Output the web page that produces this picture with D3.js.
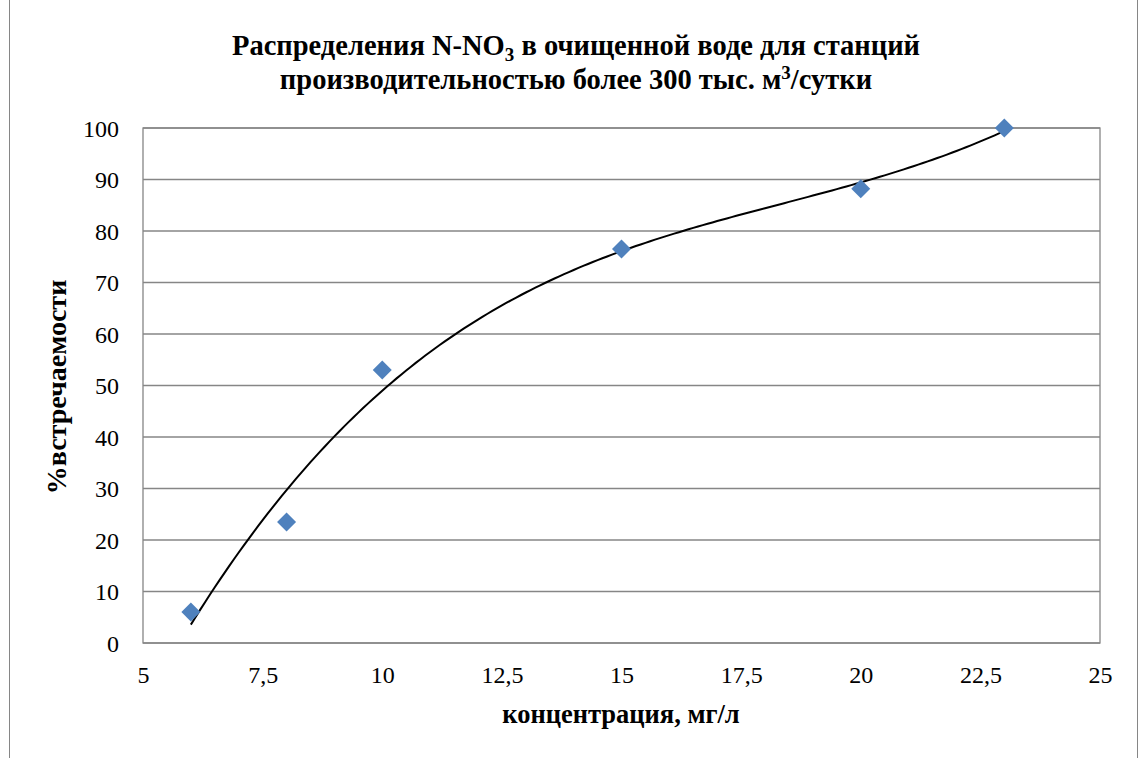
<!DOCTYPE html>
<html>
<head>
<meta charset="utf-8">
<script src="https://cdn.jsdelivr.net/npm/d3@7"></script>
<style>
  body { margin: 0; background: #fff; }
</style>
</head>
<body>
<div id="chart"></div>
<script>
const conc = [6, 8, 10, 15, 20, 23];
const freq = [6, 23.5, 53, 76.5, 88.2, 100];
const xTicks = [5, 7.5, 10, 12.5, 15, 17.5, 20, 22.5, 25];
const yTicks = [0, 10, 20, 30, 40, 50, 60, 70, 80, 90, 100];

const chartWidth = 1143;
const chartHeight = 758;
const plot = {left: 143, right: 1100, top: 128, bottom: 643};
const font = '"Liberation Serif", "Times New Roman", serif';

//Scales
const xScale = d3.scaleLinear()
  .domain([5, 25])
  .range([plot.left, plot.right]);

const yScale = d3.scaleLinear()
  .domain([0, 100])
  .range([plot.bottom, plot.top]);

const fmt = d => String(d).replace('.', ',');

//Cubic least-squares trendline, like the spreadsheet one
function polyFit(xs, ys, order) {
  const n = order + 1;
  const A = [];
  for (let i = 0; i < n; i++) {
    A.push([]);
    for (let j = 0; j < n; j++) A[i].push(d3.sum(xs, x => Math.pow(x, i + j)));
    A[i].push(d3.sum(xs, (x, k) => Math.pow(x, i) * ys[k]));
  }
  for (let i = 0; i < n; i++) {
    let p = i;
    for (let r = i + 1; r < n; r++) if (Math.abs(A[r][i]) > Math.abs(A[p][i])) p = r;
    [A[i], A[p]] = [A[p], A[i]];
    for (let r = 0; r < n; r++) {
      if (r === i) continue;
      const f = A[r][i] / A[i][i];
      for (let c = i; c <= n; c++) A[r][c] -= f * A[i][c];
    }
  }
  return A.map((row, i) => row[n] / row[i]);
}
const coef = polyFit(conc, freq, 3);
const trend = d3.range(conc[0], conc[conc.length - 1] + 0.001, 0.1)
  .map(x => [x, coef.reduce((s, c, i) => s + c * Math.pow(x, i), 0)]);

//Init chart
const chart = d3.select('#chart')
  .append('svg')
  .attr('width', chartWidth)
  .attr('height', chartHeight);

//Outer frame
chart.append('rect')
  .attr('x', 9.5).attr('y', -5)
  .attr('width', 1128).attr('height', 800)
  .attr('fill', 'none')
  .attr('stroke', '#868686')
  .attr('stroke-width', 1);

//Gridlines
chart.append('g')
  .selectAll('line')
  .data(yTicks)
  .enter()
  .append('line')
  .attr('x1', plot.left).attr('x2', plot.right)
  .attr('y1', d => yScale(d)).attr('y2', d => yScale(d))
  .attr('stroke', '#868686')
  .attr('stroke-width', 1.3);

//Plot border
chart.append('rect')
  .attr('x', plot.left).attr('y', plot.top)
  .attr('width', plot.right - plot.left)
  .attr('height', plot.bottom - plot.top)
  .attr('fill', 'none')
  .attr('stroke', '#868686')
  .attr('stroke-width', 1.3);

//Axes
const xAxis = d3.axisBottom(xScale).tickValues(xTicks).tickSize(0).tickFormat(fmt);
chart.append('g')
  .attr('class', 'x-axis')
  .attr('transform', `translate(0, ${plot.bottom})`)
  .call(xAxis)
  .call(g => g.select('.domain').remove())
  .selectAll('text')
  .attr('dy', 0)
  .attr('y', 40)
  .attr('fill', '#000')
  .style('font-family', font)
  .style('font-size', '24px');

const yAxis = d3.axisLeft(yScale).tickValues(yTicks).tickSize(0);
chart.append('g')
  .attr('class', 'y-axis')
  .attr('transform', `translate(${plot.left}, 0)`)
  .call(yAxis)
  .call(g => g.select('.domain').remove())
  .selectAll('text')
  .attr('x', -24)
  .attr('dy', '0.35em')
  .attr('fill', '#000')
  .style('font-family', font)
  .style('font-size', '24px');

//Trendline
chart.append('path')
  .datum(trend)
  .attr('d', d3.line().x(d => xScale(d[0])).y(d => yScale(d[1])))
  .attr('fill', 'none')
  .attr('stroke', '#000')
  .attr('stroke-width', 2);

//Points
chart.append('g')
  .selectAll('path')
  .data(conc)
  .enter()
  .append('path')
  .attr('d', d3.symbol().type(d3.symbolDiamond2).size(230))
  .attr('transform', (d, i) => `translate(${xScale(d)}, ${yScale(freq[i])})`)
  .attr('fill', '#4F81BD');

//Titles
const title = chart.append('text')
  .attr('text-anchor', 'middle')
  .style('font-family', font)
  .style('font-size', '28.5px')
  .style('font-weight', 'bold');
const l1 = title.append('tspan').attr('x', 576).attr('y', 55);
l1.append('tspan').text('Распределения N-NO');
l1.append('tspan').attr('dy', 6).style('font-size', '19px').text('3');
l1.append('tspan').attr('dy', -6).text(' в очищенной воде для станций');
const l2 = title.append('tspan').attr('x', 576).attr('y', 89);
l2.append('tspan').text('производительностью более 300 тыс. м');
l2.append('tspan').attr('dy', -10).style('font-size', '19px').text('3');
l2.append('tspan').attr('dy', 10).text('/сутки');

chart.append('text')
  .attr('x', 621).attr('y', 723)
  .attr('text-anchor', 'middle')
  .style('font-family', font)
  .style('font-size', '26.5px')
  .style('font-weight', 'bold')
  .text('концентрация, мг/л');

chart.append('text')
  .attr('transform', 'translate(66, 387) rotate(-90)')
  .attr('text-anchor', 'middle')
  .style('font-family', font)
  .style('font-size', '28px')
  .style('font-weight', 'bold')
  .text('%встречаемости');
</script>
</body>
</html>
